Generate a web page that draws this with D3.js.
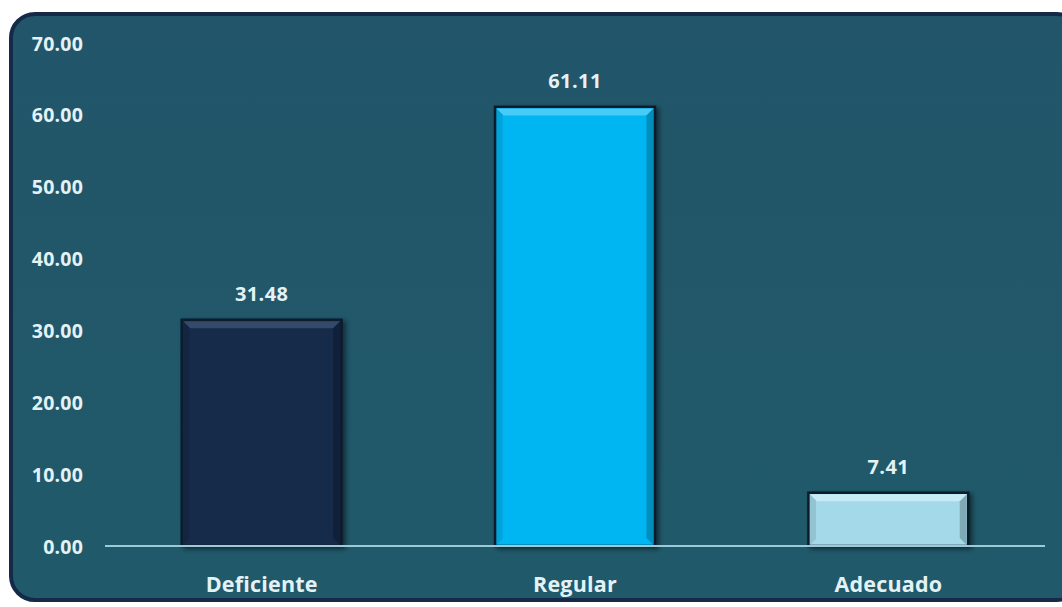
<!DOCTYPE html>
<html>
<head>
<meta charset="utf-8">
<script src="https://cdn.jsdelivr.net/npm/d3@7"></script>
<style>
  html, body { margin: 0; padding: 0; background: #ffffff; }
  svg { display: block; }
</style>
</head>
<body>
<svg id="chart" width="1062" height="607"></svg>
<script>
// Data
const categories = ["Deficiente", "Regular", "Adecuado"];
const values = [31.48, 61.11, 7.41];
const yTicks = [0, 10, 20, 30, 40, 50, 60, 70];
const barColors = ["#172a48", "#03b6f2", "#a4d9e9"];
const barHighlights = ["#3d5677", "#5fd3fb", "#d3f0f8"];

const svg = d3.select("#chart");
const defs = svg.append("defs");
const FONT = "'Open Sans', 'Noto Sans', sans-serif";
const TEXT = "#e4f2f6";

// Panel background
defs.append("linearGradient").attr("id", "panelGrad")
  .attr("x1", 0).attr("y1", 0).attr("x2", 0).attr("y2", 1)
  .selectAll("stop").data([["0%", "#225569"], ["100%", "#205a6a"]])
  .join("stop").attr("offset", d => d[0]).attr("stop-color", d => d[1]);

svg.append("rect")
  .attr("x", 11).attr("y", 14)
  .attr("width", 1070).attr("height", 586)
  .attr("rx", 24).attr("ry", 24)
  .attr("fill", "url(#panelGrad)")
  .attr("stroke", "#142a48").attr("stroke-width", 4);

// Scales
const x = d3.scaleBand().domain(categories).range([105, 1045]).paddingInner(0.49).paddingOuter(0.245);
const y = d3.scaleLinear().domain([0, 70]).range([546, 43]);

// Y axis labels
const yAxis = d3.axisLeft(y).tickValues(yTicks).tickFormat(d3.format(".2f")).tickSize(0).tickPadding(0);
const gy = svg.append("g").attr("transform", "translate(83,0)").call(yAxis);
gy.select(".domain").remove();
gy.selectAll("text")
  .attr("fill", TEXT)
  .attr("font-family", FONT)
  .attr("font-weight", "bold")
  .attr("font-size", 19.5)
  .attr("letter-spacing", 0.2)
  .attr("dy", "0.36em");

// Bar shadow filter
const f = defs.append("filter").attr("id", "shadow").attr("x", "-10%").attr("y", "-10%").attr("width", "130%").attr("height", "130%");
f.append("feGaussianBlur").attr("in", "SourceAlpha").attr("stdDeviation", 2.5);
f.append("feOffset").attr("dx", 3).attr("dy", 2).attr("result", "ob");
f.append("feComponentTransfer").append("feFuncA").attr("type", "linear").attr("slope", 0.5);
const fm = f.append("feMerge");
fm.append("feMergeNode");
fm.append("feMergeNode").attr("in", "SourceGraphic");

// Bars with bevelled edges
const bars = svg.append("g").selectAll("g.bar")
  .data(categories.map((c, i) => ({ c, v: values[i], i })))
  .join("g").attr("class", "bar");

bars.append("rect")
  .attr("x", d => x(d.c)).attr("y", d => y(d.v))
  .attr("width", x.bandwidth()).attr("height", d => y(0) - y(d.v))
  .attr("fill", d => barColors[d.i])
  .attr("stroke", "#0b1a2c").attr("stroke-width", 2.5)
  .attr("filter", "url(#shadow)");

// top bevel highlight
bars.append("path")
  .attr("d", d => {
    const x0 = x(d.c) + 1.5, x1 = x(d.c) + x.bandwidth() - 1.5, y0 = y(d.v) + 1.5, b = 7;
    return `M${x0},${y0}L${x1},${y0}L${x1 - b},${y0 + b}L${x0 + b},${y0 + b}Z`;
  })
  .attr("fill", d => barHighlights[d.i]).attr("opacity", 0.75);

// right bevel shade
bars.append("path")
  .attr("d", d => {
    const x1 = x(d.c) + x.bandwidth() - 1.5, y0 = y(d.v) + 1.5, y1 = y(0) - 1, b = 7;
    return `M${x1},${y0}L${x1},${y1}L${x1 - b},${y1 - Math.min(b, (y1 - y0) / 2)}L${x1 - b},${y0 + b}Z`;
  })
  .attr("fill", "#000").attr("opacity", 0.22);

// left bevel shade
bars.append("path")
  .attr("d", d => {
    const x0 = x(d.c) + 1.5, y0 = y(d.v) + 1.5, y1 = y(0) - 1, b = 6;
    return `M${x0},${y0}L${x0},${y1}L${x0 + b},${y1 - Math.min(b, (y1 - y0) / 2)}L${x0 + b},${y0 + b}Z`;
  })
  .attr("fill", "#000").attr("opacity", 0.1);

// Baseline
svg.append("line")
  .attr("x1", 105).attr("x2", 1045)
  .attr("y1", y(0)).attr("y2", y(0))
  .attr("stroke", "#9ccad8").attr("stroke-width", 2);

// Value labels
svg.append("g").selectAll("text")
  .data(categories.map((c, i) => ({ c, v: values[i] })))
  .join("text")
  .attr("x", d => x(d.c) + x.bandwidth() / 2)
  .attr("y", d => y(d.v) - 19)
  .attr("text-anchor", "middle")
  .attr("fill", TEXT)
  .attr("font-family", FONT)
  .attr("font-weight", "bold")
  .attr("font-size", 20)
  .attr("letter-spacing", 0.4)
  .text(d => d3.format(".2f")(d.v));

// Category labels
const xAxis = d3.axisBottom(x).tickSize(0).tickPadding(0);
const gx = svg.append("g").attr("transform", `translate(0,${y(0) + 46})`).call(xAxis);
gx.select(".domain").remove();
gx.selectAll("text")
  .attr("fill", TEXT)
  .attr("font-family", FONT)
  .attr("font-weight", "bold")
  .attr("font-size", 21.5)
  .attr("letter-spacing", 0.2)
  .attr("dy", "0");
</script>
</body>
</html>
